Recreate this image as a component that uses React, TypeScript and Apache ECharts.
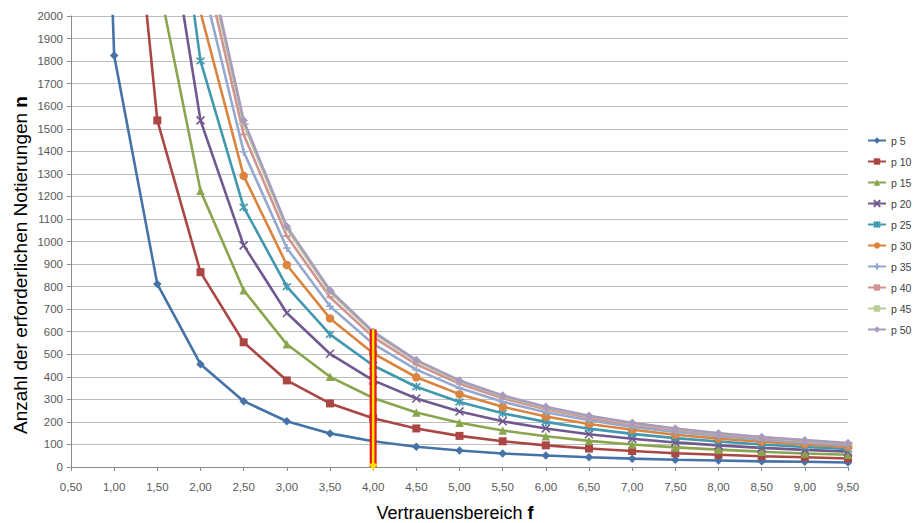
import React, { useEffect, useRef } from "react";
import * as echarts from "echarts";

const categories = ["0,50","1,00","1,50","2,00","2,50","3,00","3,50","4,00","4,50","5,00","5,50","6,00","6,50","7,00","7,50","8,00","8,50","9,00","9,50"];

const seriesNames = ["p 5","p 10","p 15","p 20","p 25","p 30","p 35","p 40","p 45","p 50"];

const p5 = [7299,1825,811,456,292,203,149,114,90,73,60,51,43,37,32,29,25,23,20];
const p10 = [13830,3457,1537,864,553,384,282,216,171,138,114,96,82,71,61,54,48,43,38];
const p15 = [19592,4898,2177,1225,784,544,400,306,242,196,162,136,116,100,87,77,68,60,54];
const p20 = [24586,6147,2732,1537,983,683,502,384,304,246,203,171,145,125,109,96,85,76,68];
const p25 = [28812,7203,3201,1801,1152,800,588,450,356,288,238,200,170,147,128,113,100,89,80];
const p30 = [32269,8067,3585,2017,1291,896,659,504,398,323,267,224,191,165,143,126,112,100,89];
const p35 = [34959,8740,3884,2185,1398,971,713,546,432,350,289,243,207,178,155,137,121,108,97];
const p40 = [36879,9220,4098,2305,1475,1024,753,576,455,369,305,256,218,188,164,144,128,114,102];
const p45 = [38032,9508,4226,2377,1521,1056,776,594,470,380,314,264,225,194,169,149,132,117,105];
const p50 = [38416,9604,4268,2401,1537,1067,784,600,474,384,317,267,227,196,171,150,133,119,106];

const seriesValues = [p5, p10, p15, p20, p25, p30, p35, p40, p45, p50];

const markerCategory = "4,00";
const markerValue = 610;

const yTicks = { min: 0, max: 2000, interval: 100 };

const xTitle = "Vertrauensbereich ";
const xTitleBold = "f";
const yTitle = "Anzahl der erforderlichen Notierungen ";
const yTitleBold = "n";

const colors = ["#4572A7","#AA4643","#89A54E","#71588F","#4198AF","#DB843D","#93A9CF","#D19392","#B9CD96","#A99BBD"];
const symbols: any[] = [
  "diamond",
  "rect",
  "triangle",
  "path://M0,0L10,10M10,0L0,10",
  "path://M0,0L10,10M10,0L0,10M5,-1L5,11",
  "circle",
  "path://M5,0L5,10M0,5L10,5",
  "path://M0,4L10,4L10,6L0,6Z",
  "path://M0,4L10,4L10,6L0,6Z",
  "diamond",
];
const symbolSizes: any[] = [8.5, 8, 8.5, 8, 8, 8.5, 8, [7, 2], [10, 2], 8.5];
const strokeSym = [false, false, false, true, true, false, true, false, false, false];

const FONT = "Liberation Sans, Arial, sans-serif";

export default function App() {
  const ref = useRef<HTMLDivElement>(null);
  useEffect(() => {
    if (!ref.current) return;
    const chart = echarts.init(ref.current, undefined, { renderer: "svg" });
    const series: any[] = seriesValues.map((vals, i) => ({
      name: seriesNames[i],
      type: "line",
      data: vals,
      symbol: symbols[i],
      symbolSize: symbolSizes[i],
      showAllSymbol: true,
      clip: true,
      lineStyle: { color: colors[i], width: 2.6 },
      itemStyle: {
        color: colors[i],
        borderColor: colors[i],
        borderWidth: strokeSym[i] ? 1.6 : 0,
      },
      z: 2 + i,
    }));
    series.push({
      name: "marker-outer",
      type: "line",
      data: [[markerCategory, 0], [markerCategory, markerValue]],
      symbol: "none",
      lineStyle: { color: "#E31A1C", width: 7, cap: "butt" },
      z: 20,
    });
    series.push({
      name: "marker-inner",
      type: "line",
      data: [
        { value: [markerCategory, 0], symbol: "triangle", symbolSize: [9, 7], symbolRotate: 180 },
        { value: [markerCategory, markerValue], symbol: "none" },
      ],
      showAllSymbol: true,
      itemStyle: { color: "#FFE100" },
      lineStyle: { color: "#FFE100", width: 2.5, cap: "butt" },
      z: 21,
    });
    const richX = {
      a: { fontSize: 18, color: "#1a1a1a", fontFamily: FONT },
      b: { fontSize: 18, color: "#1a1a1a", fontWeight: "bold", fontFamily: FONT },
    };
    const richY = {
      a: { fontSize: 19, color: "#1a1a1a", fontFamily: FONT },
      b: { fontSize: 19, color: "#1a1a1a", fontWeight: "bold", fontFamily: FONT },
    };
    chart.setOption({
      animation: false,
      backgroundColor: "#ffffff",
      color: colors,
      grid: { left: 71, right: 65, top: 16, bottom: 56, containLabel: false },
      legend: {
        data: seriesNames,
        orient: "vertical",
        left: 867,
        top: 135,
        align: "left",
        itemWidth: 18,
        itemHeight: 8,
        itemGap: 10,
        padding: 0,
        textStyle: { fontSize: 10.5, color: "#404040", fontFamily: FONT },
      },
      graphic: [
        {
          type: "text",
          x: 455,
          y: 513,
          style: { text: "{a|" + xTitle + "}{b|" + xTitleBold + "}", rich: richX, align: "center", verticalAlign: "middle" },
        },
        {
          type: "text",
          x: 20,
          y: 265,
          rotation: Math.PI / 2,
          style: { text: "{a|" + yTitle + "}{b|" + yTitleBold + "}", rich: richY, align: "center", verticalAlign: "middle" },
        },
      ],
      xAxis: {
        type: "category",
        data: categories,
        boundaryGap: false,
        axisLine: { lineStyle: { color: "#8a8a8a", width: 1 } },
        axisTick: { show: true, alignWithLabel: true, length: 4, lineStyle: { color: "#8a8a8a" } },
        axisLabel: { fontSize: 11.5, color: "#595959", margin: 14, interval: 0, fontFamily: FONT },
        splitLine: { show: false },
      },
      yAxis: {
        type: "value",
        min: yTicks.min,
        max: yTicks.max,
        interval: yTicks.interval,
        axisLine: { show: true, lineStyle: { color: "#8a8a8a", width: 1 } },
        axisTick: { show: true, length: 4, lineStyle: { color: "#8a8a8a" } },
        axisLabel: { fontSize: 11.5, color: "#595959", margin: 8, fontFamily: FONT, formatter: (v: number) => String(v) },
        splitLine: { show: true, lineStyle: { color: "#bdbdbd", width: 1.2 } },
      },
      series,
    });
    return () => chart.dispose();
  }, []);
  return <div ref={ref} style={{ position: "absolute", left: 0, top: 0, width: 913, height: 523 }} />;
}
